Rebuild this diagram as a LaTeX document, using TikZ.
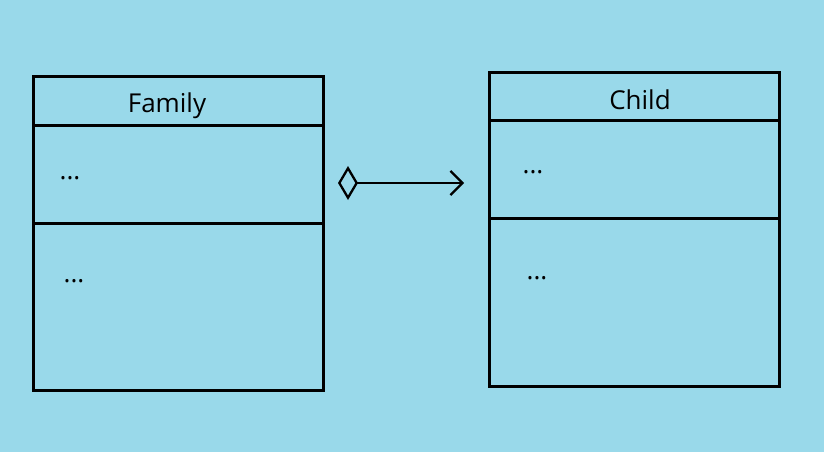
\documentclass[tikz,border=0pt]{standalone}
\usepackage{fontspec}
\setmainfont{Open Sans}
\usetikzlibrary{calc,positioning,arrows.meta}
\definecolor{paleblue}{HTML}{99D9EA}
\tikzset{
    >={Straight Barb[length=12pt,width=24pt]},
    classbox/.style={
        rectangle,
        draw=black, line width=3pt,
        minimum width=290pt,
        minimum height=314pt,
        inner sep=0pt, outer sep=0pt
    },
    divider/.style={draw, line width=3pt},
    classname/.style={anchor=base, font=\fontsize{26}{30}\selectfont},
    member/.style={anchor=base, font=\fontsize{26}{30}\selectfont}
}
\begin{document}
\begin{tikzpicture}[
            x=1pt, y=-1pt,
            aggregation/.style={
                line width=2.3pt,
                {Diamond[open,length=20pt,width=34pt]}->
            },
            node distance=0pt and 166pt]
    \fill[paleblue] (0,0) rectangle (824,452);

    % the two classes
    \node[classbox] (family) at (178,233) {};
    \node[classbox, right=of family, yshift=4pt] (child) {};

    \draw[divider] ($(family.north west)+(0,49)$) -- ($(family.north east)+(0,49)$);
    \draw[divider] ($(family.north west)+(0,147)$) -- ($(family.north east)+(0,147)$);
    \draw[divider] ($(child.north west)+(0,48)$) -- ($(child.north east)+(0,48)$);
    \draw[divider] ($(child.north west)+(0,146)$) -- ($(child.north east)+(0,146)$);

    \node[classname] (family name) at ($(family.north)+(-11,36)$) {Family};
    \node[classname] (child name) at ($(child.north)+(6,37)$) {Child};

    \node[member] (family attrs) at ($(family.north west)+(37,103)$) {...};
    \node[member] (family ops) at ($(family.north west)+(41,206)$) {...};
    \node[member] (child attrs) at ($(child.north west)+(44,101)$) {...};
    \node[member] (child ops) at ($(child.north west)+(48,207)$) {...};

    % aggregation
    \coordinate (whole end) at (338,183);
    \coordinate (part end) at (464,183);
    \draw[aggregation] (whole end) -- (part end);
\end{tikzpicture}
\end{document}
